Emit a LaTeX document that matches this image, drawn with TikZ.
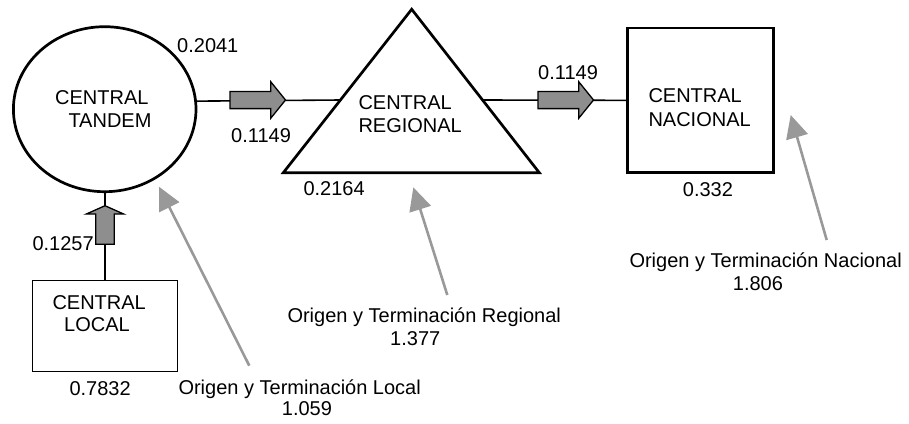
\documentclass[tikz,border=0pt]{standalone}
\usepackage{fontspec}
\setmainfont{Liberation Sans}
\usetikzlibrary{arrows.meta,shapes.geometric}
\definecolor{pointgray}{HTML}{999999}
\definecolor{blockgray}{HTML}{8E8E8E}
\tikzset{
  lbl/.style={anchor=base west,inner sep=0pt,font=\fontsize{20}{23}\selectfont},
  heavy/.style={draw=black,line width=2.7pt},
  conn/.style={draw=black,line width=1.6pt},
  blockarrow/.style={draw=black,fill=blockgray,line width=1.3pt,line join=miter},
  pointer/.style={draw=pointgray,line width=2.6pt,-{Triangle[length=23pt,width=22pt]}}
}
\begin{document}
\begin{tikzpicture}[x=1pt,y=-1pt]
\useasboundingbox (0,0) rectangle (909,423);
% main shapes
\node[heavy,ellipse,minimum width=182.6pt,minimum height=165pt,inner sep=0pt] (tandem) at (104.7,109.2) {};
\draw[heavy,line join=miter] (283.3,172.7) coordinate (rA) -- (411.7,9.3) coordinate (rB) -- (539.3,172.7) coordinate (rC) -- cycle;
\coordinate (regW) at (340.4,100);
\coordinate (regE) at (482.5,100);
\node[heavy,rectangle,minimum width=145.6pt,minimum height=144.7pt,inner sep=0pt] (nacional) at (700.5,100.35) {};
\node[draw=black,line width=1.5pt,rectangle,minimum width=145pt,minimum height=91pt,inner sep=0pt] (local) at (104.8,326.2) {};
% connectors
\draw[conn] (tandem.5.7) -- (regW);
\draw[conn] (regE) -- (nacional.west);
\draw[conn] (local.north) -- (local.north |- tandem.south);
% block arrows
\draw[blockarrow] (230,91.4) -- (270.7,91.4) -- (270.7,81.7) -- (285.5,100) -- (270.7,118.3) -- (270.7,108.6) -- (230,108.6) -- cycle;
\draw[blockarrow] (538,91.4) -- (578.7,91.4) -- (578.7,81.7) -- (593.5,100) -- (578.7,118.3) -- (578.7,108.6) -- (538,108.6) -- cycle;
\draw[blockarrow] (95.7,244.3) -- (95.7,214) -- (86.4,214) -- (105,205.7) -- (123.6,214) -- (114.3,214) -- (114.3,244.3) -- cycle;
% pointers
\coordinate (pl0) at (249.3,365.7); \coordinate (pl1) at (159,186.7);
\coordinate (pr0) at (447.3,295);   \coordinate (pr1) at (413.3,187.3);
\coordinate (pn0) at (826.7,240);   \coordinate (pn1) at (790.7,115);
\draw[pointer] (pl0) -- (pl1);
\draw[pointer] (pr0) -- (pr1);
\draw[pointer] (pn0) -- (pn1);
% texts in shapes
\node[lbl] (t1a) at (55,104) {CENTRAL};
\node[lbl] (t1b) at (68.3,127) {TANDEM};
\node[lbl] (t2a) at (358.3,109.3) {CENTRAL};
\node[lbl] (t2b) at (358.3,132.3) {REGIONAL};
\node[lbl] (t3a) at (648.3,102.3) {CENTRAL};
\node[lbl] (t3b) at (648.3,126.7) {NACIONAL};
\node[lbl] (t4a) at (52.3,309.3) {CENTRAL};
\node[lbl] (t4b) at (64,331.7) {LOCAL};
% numbers
\node[lbl] (n1) at (177,52.3) {0.2041};
\node[lbl] (n2) at (231,142.7) {0.1149};
\node[lbl] (n3) at (538,79.3) {0.1149};
\node[lbl] (n4) at (303.3,195.5) {0.2164};
\node[lbl] (n5) at (682.7,196.7) {0.332};
\node[lbl] (n6) at (32.3,250.7) {0.1257};
\node[lbl] (n7) at (69.3,395) {0.7832};
% origin texts
\node[lbl] (o1a) at (178.3,394) {Origen y Terminación Local};
\node[lbl] (o1b) at (281.7,415.7) {1.059};
\node[lbl] (o2a) at (287.3,322.7) {Origen y Terminación Regional};
\node[lbl] (o2b) at (390,345) {1.377};
\node[lbl] (o3a) at (629.3,267.3) {Origen y Terminación Nacional};
\node[lbl] (o3b) at (732.7,290) {1.806};
\end{tikzpicture}
\end{document}
